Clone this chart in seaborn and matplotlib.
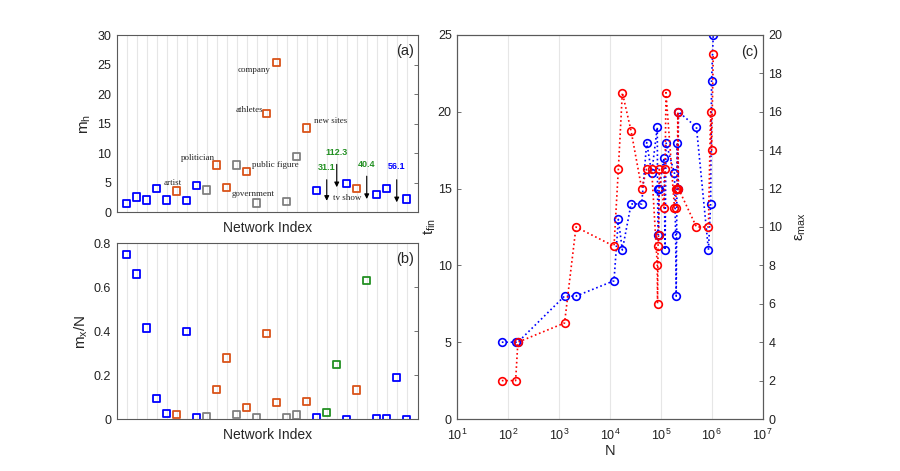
import numpy as np
import pandas as pd
import seaborn as sns
import matplotlib.pyplot as plt

# ---- panels (a) and (b): one value per network ----
net_index = list(range(1, 30))
net_type = ['blue', 'blue', 'blue', 'blue', 'blue', 'orange', 'blue', 'blue', 'gray', 'orange',
            'orange', 'gray', 'orange', 'gray', 'orange', 'orange', 'gray', 'gray', 'orange', 'blue',
            'green', 'green', 'blue', 'orange', 'green', 'blue', 'blue', 'blue', 'blue']
m_h = [1.5, 2.6, 2.1, 4.1, 2.1, 3.6, 2.0, 4.6, 3.8, 8.0,
       4.2, 8.0, 6.9, 1.6, 16.7, 25.4, 1.9, 9.5, 14.3, 3.7,
       31.1, 112.3, 4.9, 4.0, 40.4, 3.0, 4.0, 56.1, 2.3]
mx_over_N = [0.75, 0.66, 0.415, 0.093, 0.025, 0.023, 0.40, 0.008, 0.012, 0.135,
             0.278, 0.023, 0.053, 0.007, 0.39, 0.075, 0.008, 0.02, 0.08, 0.007,
             0.03, 0.25, 0.0, 0.133, 0.632, 0.004, 0.003, 0.19, 0.0]
page_labels = {6: 'artist', 10: 'politician', 13: 'public figure', 14: 'government',
               15: 'athletes', 16: 'company', 19: 'new sites', 24: 'tv show'}

# ---- panel (c) ----
N_vals = [75, 140, 155, 1280, 2150, 12000, 14600, 17500, 26000, 42000, 52700, 66000,
          85000, 86000, 88000, 90000, 93000, 115000, 121000, 126000,
          185000, 195000, 200000, 210000, 215000, 222000, 500000, 860000, 950000, 990000, 1070000]
t_fin = [5, 5, 5, 8, 8, 9, 13, 11, 14, 14, 18, 16,
         19, 15, 12, 12, 15, 17, 11, 18,
         16, 12, 8, 18, 15, 20, 19, 11, 14, 22, 25]
eps_max = [2, 2, 4, 5, 10, 9, 13, 17, 15, 12, 13, 13,
           8, 6, 9, 9.6, 13, 11, 13, 17,
           11, 11, 12, 12, 16, 12, 10, 10, 16, 14, 19]

palette = {'blue': '#0000ff', 'orange': '#d95319', 'gray': '#808080', 'green': '#239023'}

sns.set_style('white')
plt.rcParams['font.family'] = ['Liberation Sans', 'DejaVu Sans']
plt.rcParams['mathtext.fontset'] = 'custom'
plt.rcParams['mathtext.rm'] = 'Liberation Sans'
plt.rcParams['mathtext.it'] = 'Liberation Sans'
plt.rcParams['mathtext.bf'] = 'Liberation Sans:bold'

df = pd.DataFrame({'idx': net_index, 'type': net_type, 'mh': m_h, 'mx': mx_over_N})
dfc = pd.DataFrame({'N': N_vals, 't': t_fin, 'eps': eps_max})

fig = plt.figure(figsize=(9, 4.71), dpi=100)
ax_a = fig.add_axes([0.1297, 0.549, 0.335, 0.3765])
ax_b = fig.add_axes([0.1297, 0.1098, 0.335, 0.3737])
ax_c = fig.add_axes([0.5081, 0.1104, 0.3393, 0.8153])

spine_col = '#5a5a5a'
tick_fs = 9


def style_axes(ax):
    for s in ax.spines.values():
        s.set_color(spine_col)
        s.set_linewidth(0.8)
    ax.tick_params(direction='in', length=3, width=0.6, color=spine_col,
                   labelsize=tick_fs, labelcolor='#222222', pad=4)


def open_squares(ax, ycol):
    sns.scatterplot(data=df, x='idx', y=ycol, hue='type', palette=palette, marker='s',
                    s=28, linewidth=1.3, legend=False, ax=ax, zorder=3)
    coll = ax.collections[-1]
    fc = coll.get_facecolors()
    coll.set_edgecolors(fc)
    coll.set_facecolors('none')


for ax, ycol, ylim, yticks, ylab, tag in [
        (ax_a, 'mh', (0, 30), np.arange(0, 31, 5), r'$\mathrm{m_h}$', '(a)'),
        (ax_b, 'mx', (0, 0.8), np.arange(0, 0.81, 0.2), r'$\mathrm{m_x/N}$', '(b)')]:
    open_squares(ax, ycol)
    ax.set_xlim(0, 30.15)
    ax.set_ylim(*ylim)
    ax.set_yticks(yticks)
    if ycol == 'mx':
        ax.set_yticklabels(['0', '0.2', '0.4', '0.6', '0.8'])
    ax.set_xticks(net_index)
    ax.set_xticklabels([])
    ax.grid(axis='x', color='#e6e6e6', linewidth=0.8)
    ax.set_axisbelow(True)
    style_axes(ax)
    ax.tick_params(axis='x', length=0)
    ax.tick_params(axis='y', right=True)
    ax.set_xlabel('Network Index', fontsize=10, labelpad=2)
    ax.set_ylabel(ylab, fontsize=11, labelpad=3)
    ax.text(0.985, 0.95, tag, transform=ax.transAxes, ha='right', va='top', fontsize=10.5)

# page labels in panel (a)
label_offsets = {'artist': (-3, 6, 'center'), 'politician': (-1, 5, 'right'),
                 'public figure': (4, 5, 'left'), 'government': (-3, 6.5, 'center'),
                 'athletes': (-2.5, 3, 'right'), 'company': (-4.5, -5.5, 'right'),
                 'new sites': (5, 5, 'left'), 'tv show': (-7, -7, 'center')}
for i, name in page_labels.items():
    dx, dy, ha = label_offsets[name]
    ax_a.annotate(name, (i, m_h[i - 1]), xytext=(dx, dy), textcoords='offset points',
                  ha=ha, va='center', fontsize=6.5, family='Liberation Serif')

# off-scale values in panel (a): label plus down arrow
ymax_a = ax_a.get_ylim()[1]
arrow_pos = {21: (6.9, 6.0, 1.5), 22: (9.4, 8.6, 3.8), 25: (7.4, 6.6, 1.8), 28: (7.05, 6.0, 1.25)}
for i, (ty, y0, y1) in arrow_pos.items():
    if m_h[i - 1] > ymax_a:
        col = palette[net_type[i - 1]]
        ax_a.text(i, ty, f'{m_h[i - 1]:.1f}', color=col, fontsize=6.5, fontweight='bold',
                  ha='center', va='bottom')
        ax_a.annotate('', xy=(i, y1), xytext=(i, y0),
                      arrowprops=dict(arrowstyle='-|>', color='k', lw=0.8, mutation_scale=7))

# ---- panel (c) ----
ax_c.set_xscale('log')
sns.lineplot(data=dfc, x='N', y='t', sort=False, estimator=None, ax=ax_c, color='#0000ff',
             linestyle=':', linewidth=1.2, marker='o', markersize=5.5, markerfacecolor='none',
             markeredgecolor='#0000ff', markeredgewidth=1.2, zorder=3)
ax_c2 = ax_c.twinx()
sns.lineplot(data=dfc, x='N', y='eps', sort=False, estimator=None, ax=ax_c2, color='#ff0000',
             linestyle=':', linewidth=1.2, marker='o', markersize=5.5, markerfacecolor='none',
             markeredgecolor='#ff0000', markeredgewidth=1.2, zorder=3)
ax_c.set_xlim(10, 1e7)
ax_c.set_ylim(0, 25)
ax_c2.set_ylim(0, 20)
ax_c.set_xticks([10.0 ** k for k in range(1, 8)])
ax_c.xaxis.set_minor_locator(plt.NullLocator())
ax_c.set_yticks(np.arange(0, 26, 5))
ax_c2.set_yticks(np.arange(0, 21, 2))
ax_c.grid(axis='x', color='#e6e6e6', linewidth=0.8)
ax_c.set_axisbelow(True)
style_axes(ax_c)
style_axes(ax_c2)
ax_c.tick_params(axis='x', pad=6)
ax_c.set_xlabel('N', fontsize=10.5, labelpad=1)
ax_c.set_ylabel(r'$\mathrm{t_{fin}}$', fontsize=11, labelpad=0)
ax_c2.set_ylabel(r'$\epsilon_{\mathrm{max}}$', fontsize=11, labelpad=8)
ax_c.text(0.985, 0.975, '(c)', transform=ax_c.transAxes, ha='right', va='top', fontsize=10.5)

fig.savefig('out.png', dpi=100)
